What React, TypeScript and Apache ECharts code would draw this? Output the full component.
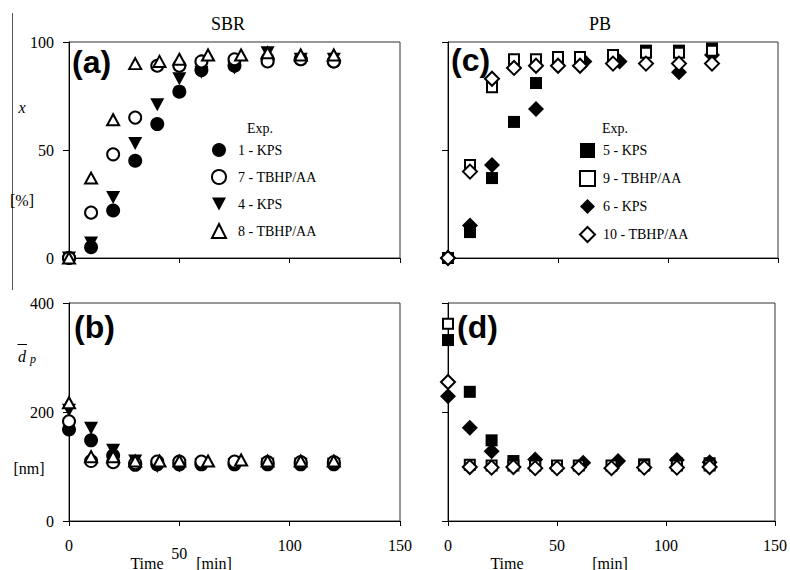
import React, { useEffect, useRef } from "react";
import * as echarts from "echarts";

// ---------- data ----------
const timeTicks = [0, 50, 100, 150];
const convTicks = [0, 50, 100];
const sizeTicks = [0, 200, 400];

const sbrNames = ["1 - KPS", "7 - TBHP/AA", "4 - KPS", "8 - TBHP/AA"];
const pbNames = ["5 - KPS", "9 - TBHP/AA", "6 - KPS", "10 - TBHP/AA"];

// (a) SBR conversion x [%] vs time [min]
const sbrConv1 = [[0, 0], [10, 5], [20, 22], [30, 45], [40, 62], [50, 77], [60, 87], [75, 89], [90, 92], [105, 92], [120, 91]];
const sbrConv7 = [[0, 0], [10, 21], [20, 48], [30, 65], [40, 89], [50, 89], [60, 91], [75, 92], [90, 91], [105, 92], [120, 91]];
const sbrConv4 = [[0, 0], [10, 7], [20, 28], [30, 53], [40, 71], [50, 83], [60, 86], [75, 88], [90, 95], [105, 92], [120, 92]];
const sbrConv8 = [[0, 0], [10, 37], [20, 64], [30, 90], [41, 91], [50, 92], [63, 94], [78, 94], [90, 95], [105, 94], [120, 94]];

// (b) SBR particle diameter [nm] vs time [min]
const sbrDp1 = [[0, 168], [10, 148], [20, 120], [30, 103], [40, 104], [50, 104], [60, 104], [75, 104], [90, 104], [105, 104], [120, 104]];
const sbrDp7 = [[0, 183], [10, 110], [20, 108], [30, 106], [40, 109], [50, 109], [60, 109], [75, 109], [90, 108], [105, 108], [120, 108]];
const sbrDp4 = [[0, 203], [10, 170], [20, 130], [30, 110], [40, 100], [50, 101], [60, 103], [75, 103], [90, 104], [105, 104], [120, 104]];
const sbrDp8 = [[0, 217], [10, 118], [20, 118], [30, 110], [41, 110], [50, 110], [63, 110], [78, 112], [90, 110], [105, 110], [120, 110]];

// (c) PB conversion x [%] vs time [min]
const pbConv5 = [[0, 0], [10, 12], [20, 37], [30, 63], [40, 81], [90, 96], [105, 96], [120, 97]];
const pbConv9 = [[0, 0], [10, 43], [20, 79], [30, 92], [40, 92], [50, 93], [60, 93], [75, 94], [90, 95], [105, 95], [120, 96]];
const pbConv6 = [[0, 0], [10, 15], [20, 43], [40, 69], [62, 91], [78, 91], [105, 86], [120, 94]];
const pbConv10 = [[0, 0], [10, 40], [20, 83], [30, 88], [40, 89], [50, 89], [60, 89], [75, 90], [90, 90], [105, 90], [120, 90]];

// (d) PB particle diameter [nm] vs time [min]
const pbDp5 = [[0, 332], [10, 237], [20, 148], [30, 110], [40, 106], [90, 104], [105, 106], [120, 106]];
const pbDp9 = [[0, 362], [10, 103], [20, 102], [30, 102], [40, 102], [50, 102], [60, 102], [75, 102], [90, 102], [105, 102], [120, 102]];
const pbDp6 = [[0, 229], [10, 171], [20, 128], [40, 113], [62, 107], [78, 110], [105, 112], [120, 108]];
const pbDp10 = [[0, 255], [10, 99], [20, 98], [30, 99], [40, 97], [50, 97], [60, 98], [75, 97], [90, 98], [105, 98], [120, 99]];

// ---------- styles ----------
const SERIF = '"Liberation Serif", "Times New Roman", serif';
const SANS = '"Liberation Sans", Arial, sans-serif';
const INK = "#000";
const FRAME = "#333";

const filled = { color: INK, borderColor: INK, borderWidth: 0, opacity: 1 };
const hollow = { color: "#fff", borderColor: INK, borderWidth: 2, opacity: 1 };

const mk = {
  filledCircle: { symbol: "circle", symbolSize: 14, itemStyle: filled },
  openCircle: { symbol: "circle", symbolSize: 12, itemStyle: hollow },
  filledDown: { symbol: "triangle", symbolRotate: 180, symbolSize: [14, 13], itemStyle: filled },
  openUp: { symbol: "triangle", symbolSize: [12, 11], itemStyle: hollow },
  filledSquare: { symbol: "rect", symbolSize: 12, itemStyle: filled },
  openSquare: { symbol: "rect", symbolSize: 10, itemStyle: hollow },
  filledDiamond: { symbol: "diamond", symbolSize: 16, itemStyle: filled },
  openDiamond: { symbol: "diamond", symbolSize: 14, itemStyle: hollow },
};

function series(name: string, data: number[][], st: any, idx: number) {
  return {
    type: "scatter",
    name,
    data,
    xAxisIndex: idx,
    yAxisIndex: idx,
    emphasis: { disabled: true },
    ...st,
  };
}

const grids = [
  { left: 69, top: 42, width: 331, height: 216 },
  { left: 69, top: 303, width: 331, height: 218 },
  { left: 448, top: 42, width: 330, height: 216 },
  { left: 448, top: 303, width: 330, height: 218 },
];

function xAxis(i: number, showLabels: boolean, lowFifty: boolean) {
  return {
    type: "value",
    gridIndex: i,
    min: timeTicks[0],
    max: timeTicks[timeTicks.length - 1],
    interval: timeTicks[1] - timeTicks[0],
    axisLine: { show: true, onZero: false, lineStyle: { color: INK, width: 1 } },
    axisTick: { show: true, inside: false, length: 5, lineStyle: { color: INK } },
    splitLine: { show: false },
    axisLabel: {
      show: showLabels,
      margin: 16,
      color: INK,
      fontFamily: SERIF,
      fontSize: 16,
      formatter: (v: number) => (lowFifty && v === 50 ? "{low|" + v + "}" : String(v)),
      rich: { low: { padding: [8, 0, 0, 0], fontFamily: SERIF, fontSize: 16, color: INK } },
    },
  };
}

function yAxis(i: number, ticks: number[], showLabels: boolean) {
  return {
    type: "value",
    gridIndex: i,
    min: ticks[0],
    max: ticks[ticks.length - 1],
    interval: ticks[1] - ticks[0],
    axisLine: { show: true, onZero: false, lineStyle: { color: INK, width: 1 } },
    axisTick: { show: true, inside: false, length: 6, lineStyle: { color: INK } },
    splitLine: { show: false },
    axisLabel: { show: showLabels, margin: 15, color: INK, fontFamily: SERIF, fontSize: 16 },
  };
}

function txt(text: string, x: number, y: number, font: string, align = "center") {
  return {
    type: "text",
    x,
    y,
    silent: true,
    style: { text, font, fill: INK, align, verticalAlign: "middle" },
  };
}

const downTriangleIcon = "path://M0,0L14,0L7,13Z";

export default function App() {
  const ref = useRef<HTMLDivElement>(null);

  useEffect(() => {
    if (!ref.current) return;
    const chart = echarts.init(ref.current, null, { renderer: "svg" });

    const option: any = {
      animation: false,
      backgroundColor: "#fff",
      grid: grids.map((g) => ({ ...g, show: true, borderColor: FRAME, borderWidth: 1, backgroundColor: "transparent" })),
      xAxis: [xAxis(0, false, false), xAxis(1, true, true), xAxis(2, false, false), xAxis(3, true, false)],
      yAxis: [yAxis(0, convTicks, true), yAxis(1, sizeTicks, true), yAxis(2, convTicks, false), yAxis(3, sizeTicks, false)],
      legend: [
        {
          data: sbrNames.map((n, i) => (i === 2 ? { name: n, icon: downTriangleIcon } : { name: n })),
          orient: "vertical",
          left: 206,
          top: 138,
          itemWidth: 14,
          itemHeight: 14,
          itemGap: 12,
          selectedMode: false,
          textStyle: { fontFamily: SERIF, fontSize: 14, color: INK, lineHeight: 14, padding: [0, 0, 0, 7] },
        },
        {
          data: pbNames,
          orient: "vertical",
          left: 574,
          top: 138,
          itemWidth: 15,
          itemHeight: 15,
          itemGap: 12,
          selectedMode: false,
          textStyle: { fontFamily: SERIF, fontSize: 14, color: INK, lineHeight: 15, padding: [0, 0, 0, 3] },
        },
      ],
      series: [
        // (a)
        series(sbrNames[0], sbrConv1, mk.filledCircle, 0),
        series(sbrNames[2], sbrConv4, mk.filledDown, 0),
        series(sbrNames[1], sbrConv7, mk.openCircle, 0),
        series(sbrNames[3], sbrConv8, mk.openUp, 0),
        // (b)
        series(sbrNames[0], sbrDp1, mk.filledCircle, 1),
        series(sbrNames[2], sbrDp4, mk.filledDown, 1),
        series(sbrNames[1], sbrDp7, mk.openCircle, 1),
        series(sbrNames[3], sbrDp8, mk.openUp, 1),
        // (c)
        series(pbNames[0], pbConv5, mk.filledSquare, 2),
        series(pbNames[2], pbConv6, mk.filledDiamond, 2),
        series(pbNames[1], pbConv9, mk.openSquare, 2),
        series(pbNames[3], pbConv10, mk.openDiamond, 2),
        // (d)
        series(pbNames[0], pbDp5, mk.filledSquare, 3),
        series(pbNames[2], pbDp6, mk.filledDiamond, 3),
        series(pbNames[1], pbDp9, mk.openSquare, 3),
        series(pbNames[3], pbDp10, mk.openDiamond, 3),
      ],
      graphic: [
        { type: "line", silent: true, shape: { x1: 12.5, y1: 13, x2: 12.5, y2: 290 }, style: { stroke: "#555", lineWidth: 1 } },
        txt("SBR", 228, 24, `18px ${SERIF}`),
        txt("PB", 600, 24, `18px ${SERIF}`),
        txt("(a)", 72, 62, `bold 32px ${SANS}`, "left"),
        txt("(b)", 74, 327, `bold 32px ${SANS}`, "left"),
        txt("(c)", 451, 60, `bold 32px ${SANS}`, "left"),
        txt("(d)", 457, 327, `bold 32px ${SANS}`, "left"),
        txt("x", 22, 107, `italic 16px ${SERIF}`),
        txt("[%]", 22, 200, `16px ${SERIF}`),
        txt("d", 22, 356, `italic 16px ${SERIF}`),
        { type: "line", silent: true, shape: { x1: 17.5, y1: 344.5, x2: 27, y2: 344.5 }, style: { stroke: INK, lineWidth: 1 } },
        txt("p", 30, 359, `italic 12px ${SERIF}`, "left"),
        txt("[nm]", 29, 468, `16px ${SERIF}`),
        txt("Exp.", 247, 128, `14px ${SERIF}`, "left"),
        txt("Exp.", 602, 128, `14px ${SERIF}`, "left"),
        txt("Time", 147, 563, `16px ${SERIF}`),
        txt("[min]", 214, 563, `16px ${SERIF}`),
        txt("Time", 507, 563, `16px ${SERIF}`),
        txt("[min]", 610, 563, `16px ${SERIF}`),
      ],
    };

    chart.setOption(option);
    return () => chart.dispose();
  }, []);

  return (
    <div
      ref={ref}
      style={{ position: "absolute", left: 0, top: 0, width: 790, height: 570, background: "#fff" }}
    />
  );
}
